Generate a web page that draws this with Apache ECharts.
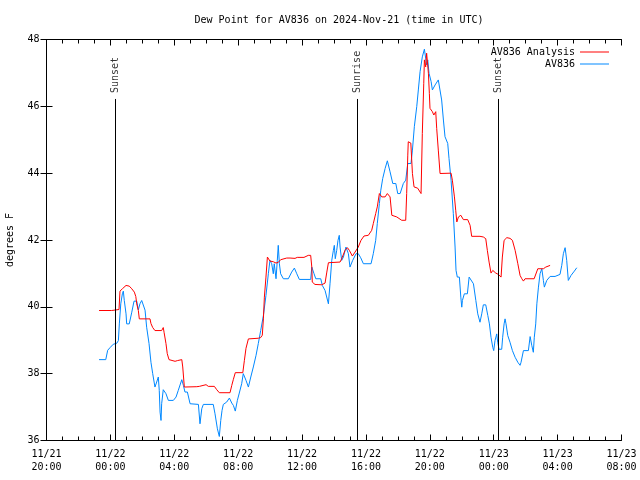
<!DOCTYPE html>
<html>
<head>
<meta charset="utf-8">
<script src="https://cdn.jsdelivr.net/npm/echarts@6/dist/echarts.min.js"></script>
<style>html,body{margin:0;padding:0;background:#fff;}#chart{width:640px;height:480px;}</style>
</head>
<body>
<div id="chart"></div>
<script>
// Hours after 2024-11-21 20:00 UTC
const analysisHours = [3.29,4.08,4.10,4.54,4.60,4.75,4.98,5.18,5.34,5.50,5.59,5.65,5.75,5.81,6.48,6.54,6.65,6.79,7.21,7.31,7.36,7.48,7.56,7.67,8.05,8.19,8.47,8.53,8.63,9.41,9.57,9.67,9.99,10.13,10.51,10.66,10.82,11.49,11.60,11.70,11.82,12.29,12.39,12.49,12.64,13.26,13.41,13.51,13.58,13.64,13.74,13.83,13.99,14.20,14.37,14.51,14.66,15.04,15.25,15.56,15.70,16.12,16.39,16.54,16.61,16.64,16.81,17.23,17.44,17.55,17.65,18.38,18.48,18.69,18.84,18.96,19.15,19.32,19.52,19.69,19.88,20.15,20.36,20.46,20.61,20.71,20.84,20.99,21.20,21.34,21.51,21.62,21.72,21.93,22.24,22.49,22.55,22.62,22.65,22.81,22.91,23.01,23.24,23.45,23.53,23.62,23.66,23.74,23.80,23.87,23.91,23.97,24.01,24.16,24.25,24.37,24.43,24.53,24.64,25.33,25.41,25.54,25.62,25.69,25.79,25.94,26.10,26.37,26.52,26.62,27.14,27.35,27.50,27.60,27.71,27.83,27.94,28.13,28.29,28.46,28.54,28.65,28.82,29.02,29.17,29.34,29.51,29.65,29.76,29.86,29.96,30.53,30.76,31.11,31.26,31.53];
const analysisValues = [39.89,39.89,39.92,39.92,40.47,40.54,40.64,40.62,40.54,40.44,40.31,40.09,39.89,39.64,39.64,39.50,39.38,39.29,39.29,39.38,39.24,38.90,38.60,38.42,38.37,38.39,38.42,38.20,37.60,37.61,37.62,37.67,37.67,37.62,37.62,37.52,37.43,37.43,37.65,37.83,38.03,38.03,38.40,38.76,39.04,39.06,39.08,39.15,39.64,40.29,40.89,41.49,41.37,41.35,41.31,41.33,41.41,41.46,41.46,41.45,41.48,41.48,41.54,41.54,41.19,40.74,40.67,40.66,40.71,41.04,41.32,41.34,41.44,41.69,41.77,41.69,41.52,41.64,41.79,41.99,42.12,42.14,42.29,42.49,42.79,42.99,43.39,43.29,43.29,43.39,43.29,42.74,42.69,42.69,42.59,42.59,43.39,44.54,44.94,44.90,43.99,43.59,43.55,43.39,45.19,46.69,47.39,47.18,47.59,47.62,46.99,46.39,45.94,45.84,45.74,45.84,45.34,44.69,43.99,44.00,43.79,43.29,42.89,42.54,42.69,42.74,42.61,42.61,42.44,42.11,42.11,42.09,42.04,41.69,41.34,41.01,41.09,41.01,40.97,40.89,41.49,41.99,42.07,42.05,41.99,41.69,41.29,40.94,40.84,40.77,40.84,40.84,41.14,41.14,41.19,41.24];

const stationHours = [3.29,3.71,3.83,3.98,4.18,4.40,4.50,4.56,4.65,4.75,4.81,4.87,4.98,5.02,5.18,5.34,5.48,5.65,5.75,5.85,5.96,6.06,6.17,6.27,6.42,6.54,6.65,6.79,6.90,7.00,7.06,7.11,7.17,7.21,7.31,7.48,7.63,7.94,8.11,8.25,8.47,8.57,8.67,8.82,8.99,9.51,9.61,9.72,9.82,10.44,10.55,10.70,10.82,10.91,10.99,11.07,11.28,11.45,11.60,11.70,11.82,11.95,12.07,12.22,12.32,12.49,12.64,12.79,12.95,13.12,13.26,13.41,13.58,13.74,13.89,13.99,14.10,14.20,14.26,14.37,14.45,14.51,14.58,14.66,14.83,15.14,15.35,15.52,15.67,15.83,16.54,16.61,16.75,16.86,17.17,17.27,17.44,17.55,17.65,17.75,17.86,17.96,18.02,18.08,18.17,18.25,18.33,18.38,18.48,18.59,18.75,18.90,19.00,19.17,19.38,19.52,19.67,19.84,20.32,20.46,20.61,20.71,20.84,20.93,21.05,21.20,21.34,21.51,21.68,21.87,21.99,22.14,22.34,22.49,22.62,22.82,22.91,23.03,23.18,23.28,23.39,23.53,23.66,23.74,23.80,23.87,23.95,24.08,24.16,24.33,24.53,24.64,24.74,24.85,24.95,25.12,25.20,25.33,25.47,25.58,25.64,25.72,25.85,25.94,26.00,26.04,26.16,26.35,26.46,26.58,26.73,26.88,27.00,27.14,27.25,27.35,27.50,27.63,27.73,27.83,27.94,28.00,28.08,28.19,28.25,28.33,28.50,28.56,28.65,28.71,28.77,28.88,29.02,29.17,29.34,29.51,29.65,29.71,29.86,30.17,30.28,30.38,30.48,30.54,30.63,30.70,30.80,30.90,31.01,31.11,31.17,31.32,31.53,31.84,32.15,32.26,32.36,32.47,32.57,32.67,32.84,33.05,33.20];
const stationValues = [38.42,38.42,38.70,38.78,38.88,38.91,38.99,39.49,40.09,40.39,40.47,40.19,39.79,39.49,39.49,39.84,40.17,40.17,39.91,40.09,40.19,40.21,39.90,39.39,38.90,38.34,38.00,37.60,37.75,37.90,37.50,36.85,36.60,37.10,37.52,37.40,37.20,37.20,37.30,37.50,37.82,37.65,37.45,37.45,37.10,37.08,36.50,36.95,37.08,37.08,36.80,36.35,36.12,36.60,36.90,37.08,37.15,37.27,37.12,37.05,36.88,37.20,37.42,37.70,38.00,37.80,37.60,37.90,38.20,38.55,38.90,39.29,39.74,40.34,40.99,41.39,41.29,40.99,41.29,40.84,41.39,41.84,41.29,40.99,40.84,40.84,41.04,41.16,40.99,40.82,40.82,41.19,40.99,40.84,40.84,40.64,40.49,40.49,40.09,40.69,41.39,41.69,41.84,41.44,41.69,41.99,42.14,41.79,41.39,41.49,41.79,41.59,41.19,41.39,41.59,41.59,41.47,41.29,41.29,41.59,41.99,42.49,43.09,43.49,43.84,44.14,44.37,44.04,43.69,43.69,43.39,43.39,43.69,43.79,44.29,44.29,44.69,45.39,45.99,46.49,47.04,47.48,47.71,47.44,47.24,47.39,46.99,46.74,46.49,46.64,46.79,46.84,46.19,45.59,45.09,44.89,44.44,43.79,42.79,41.79,41.09,40.89,40.89,40.29,39.99,40.19,40.39,40.39,40.89,40.89,40.69,40.19,39.79,39.54,39.79,40.06,40.06,39.74,39.49,39.09,38.79,38.69,38.99,39.19,38.94,38.73,38.73,39.09,39.49,39.64,39.49,39.14,38.94,38.69,38.49,38.34,38.25,38.34,38.69,38.69,39.11,38.85,38.64,39.09,39.49,40.09,40.59,40.99,41.14,40.79,40.59,40.79,40.91,40.91,40.97,41.24,41.59,41.77,41.39,40.79,40.94,41.07,41.17];

const xTickLabels = ['11/21\n20:00','11/22\n00:00','11/22\n04:00','11/22\n08:00','11/22\n12:00','11/22\n16:00','11/22\n20:00','11/23\n00:00','11/23\n04:00','11/23\n08:00'];
const sunEventNames = ['Sunset','Sunrise','Sunset'];
const sunEventHours = [4.33, 19.47, 28.28];
const sunLineTop = 46.22;

const seriesNames = ['AV836 Analysis','AV836'];
const FONT = 'DejaVu Sans Mono';

const chart = echarts.init(document.getElementById('chart'), null, {renderer:'canvas'});
const pair = (hs, vs) => hs.map((h,i)=>[h, vs[i]]);

const axisBase = {
  type:'value', min:0, max:36, interval:4,
  axisLine:{show:true, lineStyle:{color:'#000', width:1}},
  splitLine:{show:false}
};

const option = {
  animation:false,
  backgroundColor:'#fff',
  title:{
    text:'Dew Point for AV836 on 2024-Nov-21 (time in UTC)',
    left:334, top:10, textAlign:'center',
    textStyle:{fontFamily:FONT, fontSize:10, fontWeight:'normal', color:'#000'}
  },
  legend:{
    data:seriesNames, orient:'vertical', align:'right',
    right:26, top:41, itemWidth:29, itemHeight:1, itemGap:0, icon:'rect',
    textStyle:{fontFamily:FONT, fontSize:10, color:'#000', lineHeight:12}
  },
  grid:{left:46.5, right:18.5, top:39.5, bottom:39.5, outerBoundsMode:'none', containLabel:false},
  xAxis:[
    Object.assign({}, axisBase, {
      position:'bottom',
      axisTick:{show:true, inside:true, length:6, lineStyle:{color:'#000'}},
      minorTick:{show:true, splitNumber:4, length:4, lineStyle:{color:'#000'}},
      axisLabel:{margin:7, fontFamily:FONT, fontSize:10, color:'#000', lineHeight:13.5,
        formatter:(v)=>xTickLabels[Math.round(v/4)]}
    }),
    Object.assign({}, axisBase, {
      position:'top',
      axisTick:{show:true, inside:true, length:6, lineStyle:{color:'#000'}},
      minorTick:{show:true, splitNumber:4, length:4, lineStyle:{color:'#000'}},
      axisLabel:{show:false}
    })
  ],
  yAxis:[
    {type:'value', min:36, max:48, interval:2, position:'left',
     name:'degrees F', nameLocation:'middle', nameRotate:90, nameGap:31,
     nameTextStyle:{fontFamily:FONT, fontSize:10, color:'#000'},
     axisLine:{show:true, lineStyle:{color:'#000'}},
     axisTick:{show:true, inside:true, length:6, lineStyle:{color:'#000'}},
     axisLabel:{margin:7, fontFamily:FONT, fontSize:10, color:'#000'},
     splitLine:{show:false}},
    {type:'value', min:36, max:48, interval:2, position:'right',
     axisLine:{show:true, lineStyle:{color:'#000'}},
     axisTick:{show:true, inside:true, length:6, lineStyle:{color:'#000'}},
     axisLabel:{show:false}, splitLine:{show:false}}
  ],
  series:[
    {name:seriesNames[0], type:'line', data:pair(analysisHours, analysisValues),
     symbol:'none', showSymbol:false, lineStyle:{color:'#ff0000', width:1}, itemStyle:{color:'#ff0000'}, z:3},
    {name:seriesNames[1], type:'line', data:pair(stationHours, stationValues),
     symbol:'none', showSymbol:false, lineStyle:{color:'#0088ff', width:1}, itemStyle:{color:'#0088ff'}, z:2},
    {name:'sun', type:'scatter', silent:true, symbolSize:0,
     data:sunEventHours.map((h,i)=>({value:[h, sunLineTop], name:sunEventNames[i]})),
     label:{show:true, formatter:(p)=>p.name, position:'top', distance:6, rotate:90,
       align:'left', verticalAlign:'middle', fontFamily:FONT, fontSize:10, color:'#000'},
     markLine:{silent:true, symbol:['none','none'], label:{show:false},
       lineStyle:{color:'#000', width:1, type:'solid'},
       data:sunEventHours.map(h=>[{coord:[h,36]},{coord:[h,sunLineTop]}])},
     z:1}
  ]
};
chart.setOption(option);
</script>
</body>
</html>
